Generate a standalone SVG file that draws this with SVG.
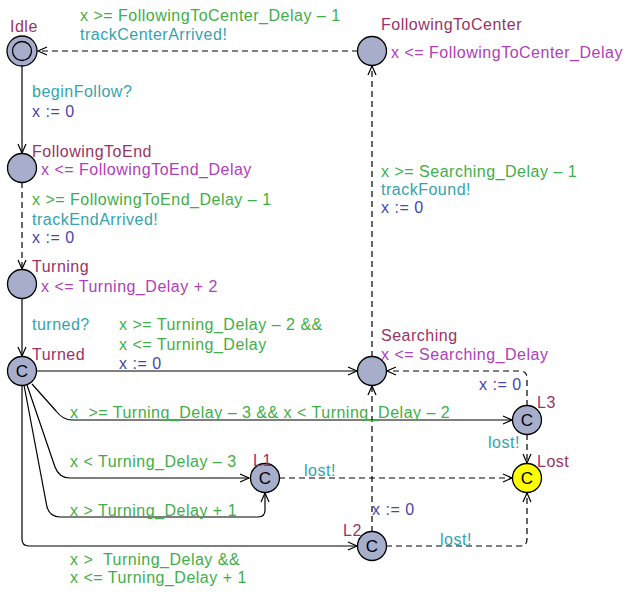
<svg xmlns="http://www.w3.org/2000/svg" width="626" height="592" viewBox="0 0 626 592">
<defs>
<marker id="arr" markerWidth="12" markerHeight="10" refX="10" refY="5" orient="auto" markerUnits="userSpaceOnUse">
<path d="M1,1 L10,5 L1,9" fill="none" stroke="#000" stroke-width="1.2"/>
</marker>
</defs>
<style>
text{font-family:"Liberation Sans",Arial,sans-serif;font-size:16px;letter-spacing:0.5px}
.loc{fill:#a6aecc;stroke:#000;stroke-width:1.3}
.lost{fill:#ffff00;stroke:#000;stroke-width:1.3}
.nm{fill:#993366}
.inv{fill:#b040b8}
.g{fill:#3fae49}
.s{fill:#35a3ad}
.u{fill:#4646b0}
.c{fill:#000;font-size:17px;letter-spacing:0;text-anchor:middle}
.e{fill:none;stroke:#000;stroke-width:1.2;marker-end:url(#arr)}
.d{stroke-dasharray:6,4}
</style>
<rect width="626" height="592" fill="#fff"/>
<g id="connectors">
<path class="e" d="M22,66 V153"/>
<path class="e d" d="M22,182 V269"/>
<path class="e" d="M22,298 V356"/>
<path class="e d" d="M358,51 H38"/>
<path class="e d" d="M372,357 V66"/>
<path class="e" d="M36,371 H357"/>
<path class="e d" d="M527,406 V378 Q527,371 520,371 H387"/>
<path class="e d" d="M527,434 V463"/>
<path class="e d" d="M279,478 H512"/>
<path class="e d" d="M372,532 V386"/>
<path class="e d" d="M386,546 H520 Q527,546 527,539 V493"/>
<path class="e" d="M32,384 L56,411 Q63,420 72,420 H512"/>
<path class="e" d="M27,385 L55,467 Q59,478 70,478 H249"/>
<path class="e" d="M24,385 L47,507 Q50,517 60,517 H258 Q265,517 265,510 V493"/>
<path class="e" d="M22,385 V539 Q22,546 29,546 H357"/>
</g>
<g id="Idle"><circle class="loc" cx="22" cy="51" r="15"/><circle fill="none" stroke="#000" stroke-width="1.3" cx="22" cy="51" r="9.5"/><text class="nm" x="10" y="32">Idle</text></g>
<g id="FollowingToCenter"><circle class="loc" cx="372" cy="51" r="14.5"/><text class="nm" x="381" y="30">FollowingToCenter</text><text class="inv" x="391" y="58">x &lt;= FollowingToCenter_Delay</text></g>
<g id="FollowingToEnd"><circle class="loc" cx="22" cy="168" r="14.5"/><text class="nm" x="32" y="157">FollowingToEnd</text><text class="inv" x="41" y="175">x &lt;= FollowingToEnd_Delay</text></g>
<g id="Turning"><circle class="loc" cx="22" cy="284" r="14.5"/><text class="nm" x="32" y="272">Turning</text><text class="inv" x="41" y="292">x &lt;= Turning_Delay + 2</text></g>
<g id="Turned"><circle class="loc" cx="22" cy="371" r="14.5"/><text class="c" x="22" y="377">C</text><text class="nm" x="32" y="360">Turned</text></g>
<g id="Searching"><circle class="loc" cx="372" cy="371" r="14.5"/><text class="nm" x="381" y="341">Searching</text><text class="inv" x="381" y="360">x &lt;= Searching_Delay</text></g>
<g id="L3"><circle class="loc" cx="527" cy="420" r="14.5"/><text class="c" x="527" y="426">C</text><text class="nm" x="537" y="408">L3</text></g>
<g id="Lost"><circle class="lost" cx="527" cy="478" r="14.5"/><text class="c" x="527" y="484">C</text><text class="nm" x="537" y="467">Lost</text></g>
<g id="L1"><circle class="loc" cx="265" cy="478" r="14.5"/><text class="c" x="265" y="484">C</text><text class="nm" x="253" y="466">L1</text></g>
<g id="L2"><circle class="loc" cx="372" cy="546" r="14.5"/><text class="c" x="372" y="552">C</text><text class="nm" x="343" y="536">L2</text></g>
<g id="labels">
<text class="g" x="80" y="21">x &gt;= FollowingToCenter_Delay – 1</text>
<text class="s" x="80" y="40">trackCenterArrived!</text>
<text class="s" x="32" y="97">beginFollow?</text>
<text class="u" x="32" y="117">x := 0</text>
<text class="g" x="32" y="205">x &gt;= FollowingToEnd_Delay – 1</text>
<text class="s" x="32" y="225">trackEndArrived!</text>
<text class="u" x="32" y="243">x := 0</text>
<text class="s" x="32" y="330">turned?</text>
<text class="g" x="119" y="330">x &gt;= Turning_Delay – 2 &amp;&amp;</text>
<text class="g" x="119" y="350">x &lt;= Turning_Delay</text>
<text class="u" x="119" y="369">x := 0</text>
<text class="g" x="70" y="418" xml:space="preserve">x  &gt;= Turning_Delay – 3 &amp;&amp; x &lt; Turning_Delay – 2</text>
<text class="g" x="381" y="177">x &gt;= Searching_Delay – 1</text>
<text class="s" x="381" y="195">trackFound!</text>
<text class="u" x="381" y="213">x := 0</text>
<text class="u" x="479" y="390">x := 0</text>
<text class="s" x="488" y="448">lost!</text>
<text class="s" x="304" y="476">lost!</text>
<text class="u" x="372" y="515">x := 0</text>
<text class="s" x="440" y="545">lost!</text>
<text class="g" x="70" y="467">x &lt; Turning_Delay – 3</text>
<text class="g" x="70" y="516">x &gt; Turning_Delay + 1</text>
<text class="g" x="70" y="565" xml:space="preserve">x &gt;  Turning_Delay &amp;&amp;</text>
<text class="g" x="70" y="583">x &lt;= Turning_Delay + 1</text>
</g>
</svg>
